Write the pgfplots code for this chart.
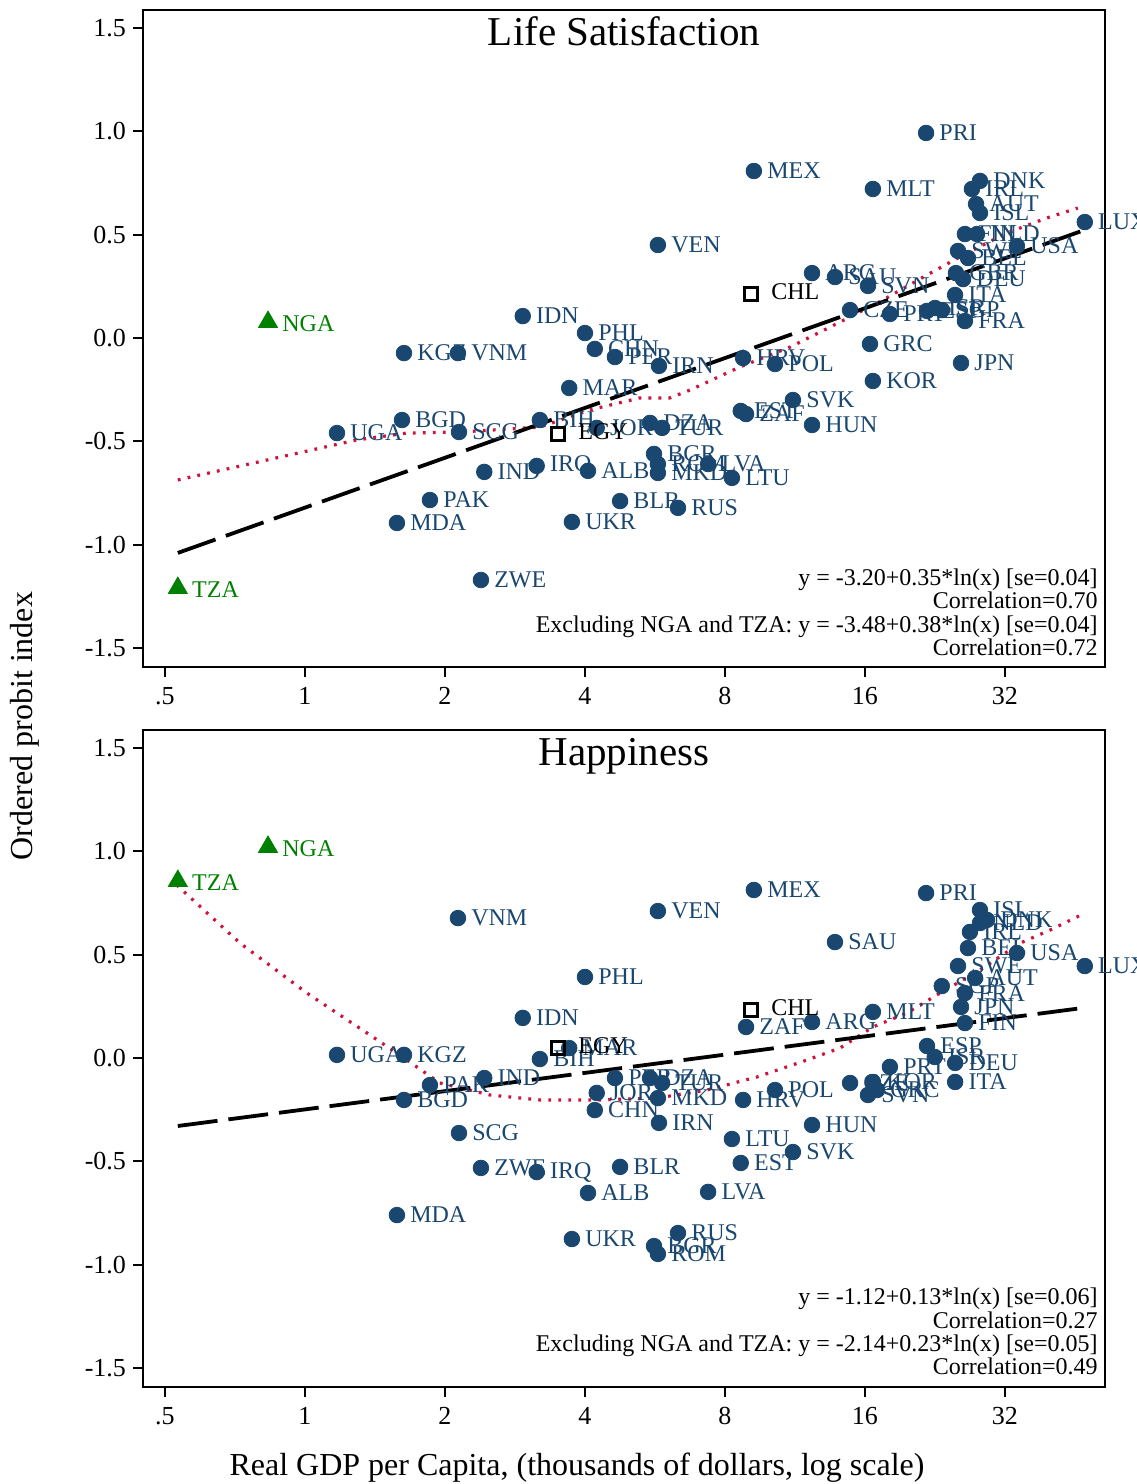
\documentclass[border=0pt]{standalone}
\usepackage{fontspec}
\setmainfont{Liberation Serif}
\usepackage{pgfplots}
\pgfplotsset{compat=1.18}
\usepackage{pgfplotstable}
\definecolor{navy}{RGB}{26,71,111}
\definecolor{sgreen}{RGB}{0,128,0}
\definecolor{crim}{RGB}{205,20,60}

% ---------- Life satisfaction ----------
\pgfplotstableread{
x y lbl
21.65 0.992 PRI
9.23 0.808 MEX
16.64 0.721 MLT
28.27 0.760 DNK
27.17 0.721 IRL
27.73 0.648 AUT
28.27 0.605 ISL
26.24 0.503 FIN
27.86 0.503 NLD
25.36 0.421 SWE
26.64 0.387 BEL
33.95 0.445 USA
25.10 0.314 GBR
26.00 0.285 DEU
24.99 0.208 ITA
21.75 0.131 ESP
22.63 0.145 ISR
23.43 0.135 SGP
26.24 0.082 FRA
25.74 -0.121 JPN
47.5 0.561 LUX
12.31 0.314 ARG
13.79 0.295 SAU
16.24 0.252 SVN
14.86 0.135 CZE
18.10 0.116 PRT
16.40 -0.029 GRC
16.64 -0.208 KOR
5.74 0.450 VEN
8.75 -0.097 HRV
10.25 -0.126 POL
11.20 -0.300 SVK
8.65 -0.353 EST
8.88 -0.368 ZAF
12.31 -0.421 HUN
2.94 0.106 IDN
4.00 0.024 PHL
4.20 -0.053 CHN
4.64 -0.092 PER
5.77 -0.135 IRN
3.70 -0.242 MAR
3.20 -0.397 BIH
4.24 -0.435 JOR
5.52 -0.411 DZA
5.86 -0.435 TUR
5.63 -0.561 BGR
5.74 -0.610 ROM
5.74 -0.653 MKD
7.36 -0.610 LVA
8.28 -0.677 LTU
3.15 -0.619 IRQ
4.06 -0.643 ALB
2.43 -0.648 IND
1.857 -0.784 PAK
1.577 -0.895 MDA
3.75 -0.890 UKR
4.76 -0.789 BLR
6.34 -0.822 RUS
2.39 -1.171 ZWE
1.633 -0.073 KGZ
2.133 -0.073 VNM
1.172 -0.460 UGA
1.617 -0.397 BGD
2.144 -0.455 SCG
}\lsnavy
\pgfplotstableread{
x y lbl
0.833 0.077 NGA
0.533 -1.210 TZA
}\lsgreen
\pgfplotstableread{
x y lbl
3.50 -0.464 EGY
9.10 0.213 CHL
}\lssq
\pgfplotstableread{
x y
0.533 -0.687
1.294 -0.493
1.657 -0.460
2.154 -0.455
3.20 -0.431
4.10 -0.348
5.25 -0.290
6.09 -0.290
6.73 -0.252
8.62 -0.140
11.04 -0.044
14.14 0.077
17.5 0.184
21.75 0.305
26.5 0.411
32.3 0.508
39.4 0.581
45.9 0.629
}\lslowess

% ---------- Happiness ----------
\pgfplotstableread{
x y lbl
2.133 0.677 VNM
1.172 0.015 UGA
1.633 0.015 KGZ
1.857 -0.131 PAK
1.633 -0.203 BGD
2.43 -0.097 IND
2.144 -0.363 SCG
2.39 -0.532 ZWE
3.15 -0.552 IRQ
1.577 -0.760 MDA
2.94 0.194 IDN
4.00 0.392 PHL
5.74 0.711 VEN
9.23 0.813 MEX
3.70 0.048 MAR
3.20 -0.005 BIH
4.64 -0.097 PER
5.52 -0.097 DZA
5.86 -0.121 TUR
4.24 -0.169 JOR
4.20 -0.252 CHN
5.74 -0.194 MKD
5.77 -0.314 IRN
8.88 0.150 ZAF
12.31 0.174 ARG
10.25 -0.155 POL
8.75 -0.203 HRV
8.28 -0.392 LTU
8.65 -0.508 EST
7.36 -0.648 LVA
11.20 -0.455 SVK
12.31 -0.324 HUN
4.76 -0.527 BLR
4.06 -0.653 ALB
3.75 -0.876 UKR
6.34 -0.847 RUS
5.63 -0.910 BGR
5.74 -0.948 ROM
13.79 0.561 SAU
16.64 0.223 MLT
21.65 0.798 PRI
28.27 0.716 ISL
29.27 0.668 DNK
28.27 0.653 NLD
26.90 0.610 IRL
26.64 0.532 BEL
33.95 0.508 USA
47.5 0.445 LUX
25.36 0.445 SWE
27.60 0.387 AUT
23.40 0.348 SGP
26.24 0.314 FRA
25.74 0.247 JPN
26.24 0.169 FIN
21.75 0.058 ESP
22.60 0.005 ISR
25.00 -0.024 DEU
25.00 -0.116 ITA
18.10 -0.043 PRT
14.86 -0.121 CZE
16.64 -0.116 KOR
16.24 -0.179 SVN
16.98 -0.155 GRC
}\hpnavy
\pgfplotstableread{
x y lbl
0.833 1.021 NGA
0.533 0.856 TZA
}\hpgreen
\pgfplotstableread{
x y lbl
3.50 0.048 EGY
9.10 0.232 CHL
}\hpsq
\pgfplotstableread{
x y
0.530 0.837
0.725 0.556
1.01 0.314
1.40 0.102
1.657 -0.010
1.951 -0.121
2.50 -0.179
3.20 -0.203
4.31 -0.203
5.71 -0.194
7.32 -0.155
9.37 -0.092
12.0 -0.010
14.14 0.048
16.64 0.150
19.7 0.218
23.2 0.314
28.3 0.426
34.5 0.556
40.0 0.619
47.5 0.701
}\hplowess

\pgfplotsset{
  mycty/.style={only marks, mark=*, mark size=3.9pt, color=navy,
    nodes near coords, point meta=explicit symbolic,
    every node near coord/.append style={anchor=west, inner sep=0pt, xshift=6.5pt,
      font=\fontsize{12}{12}\selectfont, text=navy}},
  mytri/.style={only marks, mark=triangle*, mark size=5.5pt, color=sgreen,
    nodes near coords, point meta=explicit symbolic,
    every node near coord/.append style={anchor=west, inner sep=0pt, xshift=7pt, yshift=-0.8pt,
      font=\fontsize{12}{12}\selectfont, text=sgreen}},
  mysq/.style={only marks, mark=square, mark size=3.2pt, color=black,
    mark options={line width=1.4pt, fill=white},
    nodes near coords, point meta=explicit symbolic,
    every node near coord/.append style={anchor=west, inner sep=0pt, xshift=9.5pt, yshift=1pt,
      font=\fontsize{12}{12}\selectfont, text=black}},
  myfit/.style={black, line width=1.9pt, dash pattern=on 20pt off 5.5pt},
  mylowess/.style={crim, line width=1.6pt, dash pattern=on 1.4pt off 3.6pt},
}
\tikzset{myann/.style={anchor=base east, inner sep=0pt, font=\fontsize{12}{12}\selectfont}}

\begin{document}
\begin{tikzpicture}
\begin{axis}[
    width=481pt, height=328.5pt, scale only axis,
    at={(71.5pt,-5pt)}, anchor=north west,
    xmode=log, log basis x=2,
    xmin=0.4486, xmax=52.5, ymin=-1.592, ymax=1.587,
    xtick={0.5,1,2,4,8,16,32}, xticklabels={.5,1,2,4,8,16,32},
    ytick={-1.5,-1,-0.5,0,0.5,1,1.5},
    yticklabels={-1.5,-1.0,-0.5,0.0,0.5,1.0,1.5},
    xminorticks=false, yminorticks=false,
    tick align=outside, tick pos=left,
    major tick length=5pt,
    axis line style={line width=1pt},
    every tick/.style={black, line width=1pt},
    tick label style={font=\fontsize{13}{13}\selectfont},
    xticklabel style={yshift=-1.5pt},
    clip=false]
  \addplot[mycty] table[x=x,y=y,meta=lbl] {\lsnavy};
  \addplot[mytri] table[x=x,y=y,meta=lbl] {\lsgreen};
  \addplot[mysq] table[x=x,y=y,meta=lbl] {\lssq};
  \addplot[mylowess] table[x=x,y=y] {\lslowess};
  \addplot[myfit] coordinates {(0.533,-1.04) (47.5,0.523)};
  \node[anchor=base, inner sep=0pt, font=\fontsize{20.5}{20.5}\selectfont]
    at (rel axis cs:0.5,1) [yshift=-17.5pt] {Life Satisfaction};
  \node[myann] at (rel axis cs:1,0) [xshift=-3.5pt, yshift=41pt] {y = -3.20+0.35*ln(x) [se=0.04]};
  \node[myann] at (rel axis cs:1,0) [xshift=-3.5pt, yshift=29.5pt] {Correlation=0.70};
  \node[myann] at (rel axis cs:1,0) [xshift=-3.5pt, yshift=17.5pt] {Excluding NGA and TZA: y = -3.48+0.38*ln(x) [se=0.04]};
  \node[myann] at (rel axis cs:1,0) [xshift=-3.5pt, yshift=6pt] {Correlation=0.72};
\end{axis}
\begin{axis}[
    width=481pt, height=328.5pt, scale only axis,
    at={(71.5pt,-365pt)}, anchor=north west,
    xmode=log, log basis x=2,
    xmin=0.4486, xmax=52.5, ymin=-1.592, ymax=1.587,
    xtick={0.5,1,2,4,8,16,32}, xticklabels={.5,1,2,4,8,16,32},
    ytick={-1.5,-1,-0.5,0,0.5,1,1.5},
    yticklabels={-1.5,-1.0,-0.5,0.0,0.5,1.0,1.5},
    xminorticks=false, yminorticks=false,
    tick align=outside, tick pos=left,
    major tick length=5pt,
    axis line style={line width=1pt},
    every tick/.style={black, line width=1pt},
    tick label style={font=\fontsize{13}{13}\selectfont},
    xticklabel style={yshift=-1.5pt},
    clip=false]
  \addplot[mycty] table[x=x,y=y,meta=lbl] {\hpnavy};
  \addplot[mytri] table[x=x,y=y,meta=lbl] {\hpgreen};
  \addplot[mysq] table[x=x,y=y,meta=lbl] {\hpsq};
  \addplot[mylowess] table[x=x,y=y] {\hplowess};
  \addplot[myfit] coordinates {(0.533,-0.329) (47.0,0.242)};
  \node[anchor=base, inner sep=0pt, font=\fontsize{20.5}{20.5}\selectfont]
    at (rel axis cs:0.5,1) [yshift=-17.5pt] {Happiness};
  \node[myann] at (rel axis cs:1,0) [xshift=-3.5pt, yshift=41.5pt] {y = -1.12+0.13*ln(x) [se=0.06]};
  \node[myann] at (rel axis cs:1,0) [xshift=-3.5pt, yshift=29.5pt] {Correlation=0.27};
  \node[myann] at (rel axis cs:1,0) [xshift=-3.5pt, yshift=18pt] {Excluding NGA and TZA: y = -2.14+0.23*ln(x) [se=0.05]};
  \node[myann] at (rel axis cs:1,0) [xshift=-3.5pt, yshift=6.5pt] {Correlation=0.49};
\end{axis}
\node[rotate=90, inner sep=0pt, font=\fontsize{16}{16}\selectfont] at (12.5pt,-363pt) {Ordered probit index};
\node[anchor=base, inner sep=0pt, font=\fontsize{16}{16}\selectfont] at (288.5pt,-737.5pt) {Real GDP per Capita, (thousands of dollars, log scale)};
\pgfresetboundingbox
\path[use as bounding box] (0pt,0pt) rectangle (568pt,-742pt);
\end{tikzpicture}
\end{document}
